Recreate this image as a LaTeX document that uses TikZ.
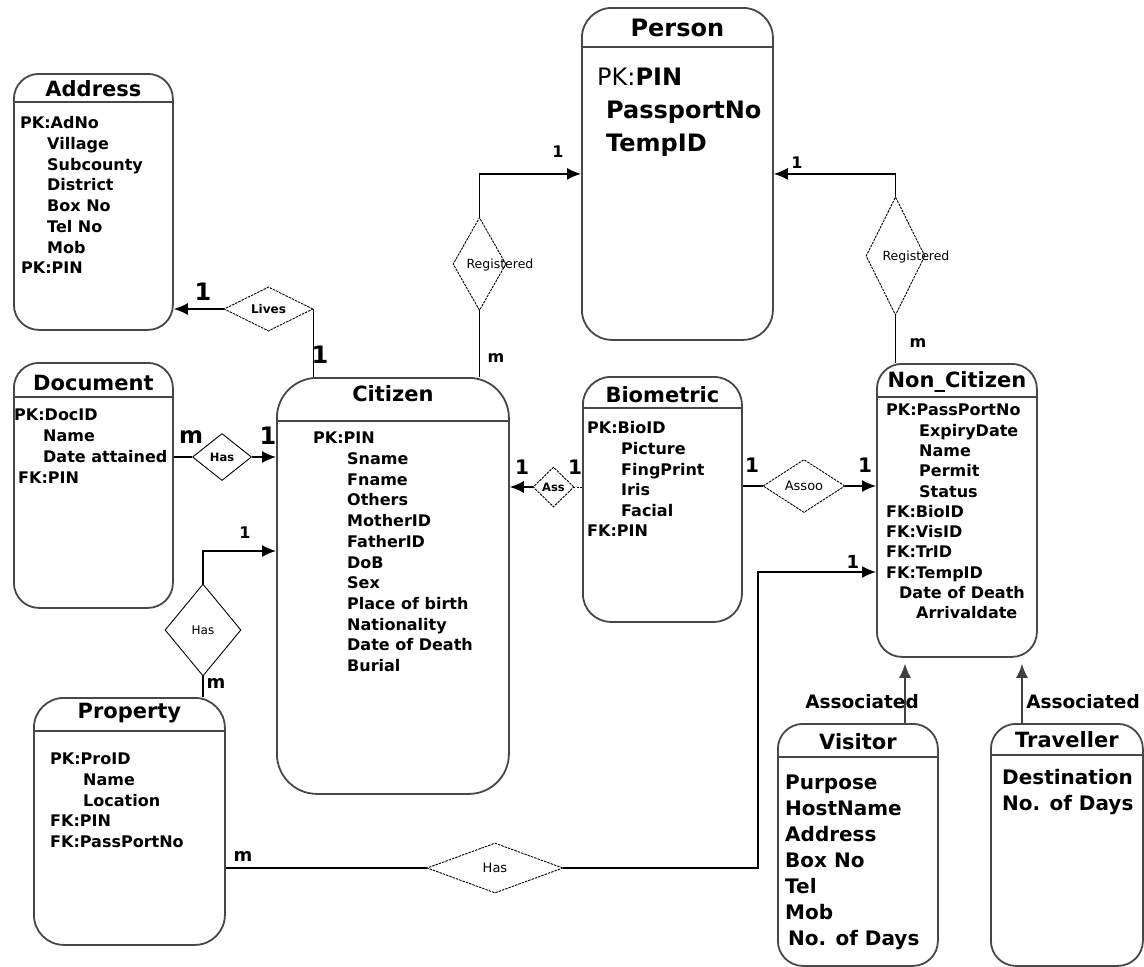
\documentclass[tikz,border=0pt]{standalone}
\usepackage{fontspec}
\setmainfont{DejaVu Sans}
\usetikzlibrary{shapes.geometric,arrows.meta,calc}
\tikzset{
  entity/.style={draw=black!72, line width=1.8pt, inner sep=0pt, anchor=north west},
  hdr/.style={draw=black!72, line width=1.8pt},
  ttl/.style={font=\fontsize{21}{24}\selectfont\bfseries, inner sep=0pt},
  attr/.style={font=\fontsize{#1}{#1}\selectfont\bfseries, inner sep=0pt, anchor=base west},
  rel/.style={diamond, draw, line width=0.9pt, inner sep=0pt, dash pattern=on 2.5pt off 1pt},
  relsolid/.style={diamond, draw, line width=0.9pt, inner sep=0pt},
  rellbl/.style={font=\fontsize{#1}{#1}\selectfont, inner sep=0pt},
  conn/.style={draw, line width=1.5pt},
  arr/.style={conn, -{Latex[length=14pt,width=12pt]}},
  card/.style={font=\fontsize{#1}{#1}\selectfont\bfseries, inner sep=0pt},
  assoc/.style={font=\fontsize{18.5}{18.5}\selectfont\bfseries, inner sep=0pt},
}
% prefix, size, x0, first centre y, step, list of dx/text
\newcommand\attrlist[6]{%
  \foreach \dx/\t [count=\i from 0] in {#6} {%
    \node[attr=#2] (#1-\i) at ({#3+\dx}, {#4+\i*#5+0.365*#2}) {\t};
  }}
\begin{document}
\begin{tikzpicture}[x=1pt,y=-1pt]
\useasboundingbox (0,0) rectangle (1144,967);
\fill[white] (0,0) rectangle (1144,967);

% ---------- entities ----------
% Address
\node[entity, rounded corners=25pt, minimum width=159pt, minimum height=256pt] (address) at (13,73) {};
\draw[hdr] (address.west |- 0,102) -- (address.east |- 0,102);
\node[ttl] (address-t) at (address.north |- 0,89) {Address};
\attrlist{adr}{16}{20}{123}{20.7}{0/PK:AdNo, 27/Village, 27/Subcounty, 27/District, 27/Box No, 27/Tel No, 27/Mob, 1/PK:PIN}

% Person
\node[entity, rounded corners=30pt, minimum width=191pt, minimum height=332pt] (person) at (581,7) {};
\draw[hdr] (person.west |- 0,47) -- (person.east |- 0,47);
\node[ttl, font=\fontsize{24}{26}\selectfont\bfseries] (person-t) at (person.north |- 0,28) {Person};
\node[attr=24] (per-0) at (597,{77+8.8}) {{\mdseries PK:}PIN};
\node[attr=24] (per-1) at (606,{110+8.8}) {PassportNo};
\node[attr=24] (per-2) at (606,{143+8.8}) {TempID};

% Citizen
\node[entity, rounded corners=40pt, minimum width=232pt, minimum height=416pt] (citizen) at (276,377) {};
\draw[hdr] (citizen.west |- 0,421) -- (citizen.east |- 0,421);
\node[ttl] (citizen-t) at (citizen.north |- 0,394) {Citizen};
\attrlist{cit}{16}{313}{438}{20.7}{0/PK:PIN, 34/Sname, 34/Fname, 34/Others, 34/MotherID, 34/FatherID, 34/DoB, 34/Sex, 34/Place of birth, 34/Nationality, 34/Date of Death, 34/Burial}

% Document
\node[entity, rounded corners=25pt, minimum width=159pt, minimum height=245pt] (document) at (13,362) {};
\draw[hdr] (document.west |- 0,397) -- (document.east |- 0,397);
\node[ttl] (document-t) at (document.north |- 0,383) {Document};
\attrlist{doc}{16}{14}{415}{20.8}{0/PK:DocID, 29/Name, 29/Date attained, 4/FK:PIN}

% Biometric
\node[entity, rounded corners=28pt, minimum width=159pt, minimum height=245pt] (biometric) at (582,376) {};
\draw[hdr] (biometric.west |- 0,408) -- (biometric.east |- 0,408);
\node[ttl] (biometric-t) at (biometric.north |- 0,395) {Biometric};
\attrlist{bio}{16}{587}{428}{20.6}{0/PK:BioID, 34/Picture, 34/FingPrint, 34/Iris, 34/Facial, 0/FK:PIN}

% Non_Citizen
\node[entity, rounded corners=25pt, minimum width=160pt, minimum height=293pt] (noncit) at (876,363) {};
\draw[hdr] (noncit.west |- 0,397) -- (noncit.east |- 0,397);
\node[ttl] (noncit-t) at (noncit.north |- 0,382) {Non\_Citizen};
\attrlist{nc}{16}{886}{410}{20.3}{0/PK:PassPortNo, 33/ExpiryDate, 33/Name, 33/Permit, 33/Status, 0/FK:BioID, 0/FK:VisID, 0/FK:TrID, 0/FK:TempID, 13/Date of Death, 30/Arrivaldate}

% Property
\node[entity, rounded corners=30pt, minimum width=191pt, minimum height=247pt] (property) at (33,697) {};
\draw[hdr] (property.west |- 0,731) -- (property.east |- 0,731);
\node[ttl] (property-t) at (property.north |- 0,713) {Property};
\attrlist{pro}{16}{50}{759}{20.7}{0/PK:ProID, 33/Name, 33/Location, 0/FK:PIN, 0/FK:PassPortNo}

% Visitor
\node[entity, rounded corners=25pt, minimum width=160pt, minimum height=242pt] (visitor) at (777,723) {};
\draw[hdr] (visitor.west |- 0,757) -- (visitor.east |- 0,757);
\node[ttl] (visitor-t) at (visitor.north |- 0,742) {Visitor};
\attrlist{vis}{20}{785}{782}{26}{0/Purpose, 0/HostName, 0/Address, 0/Box No, 0/Tel, 0/Mob, 3/No. of Days}

% Traveller
\node[entity, rounded corners=25pt, minimum width=152pt, minimum height=242pt] (traveller) at (990,723) {};
\draw[hdr] (traveller.west |- 0,755) -- (traveller.east |- 0,755);
\node[ttl] (traveller-t) at (traveller.north |- 0,740) {Traveller};
\attrlist{tra}{20}{1002}{777}{26}{0/Destination, 0/No. of Days}

% ---------- relationships ----------
\node[rel, minimum width=89pt, minimum height=37pt, font=\fontsize{12}{12}\selectfont\bfseries] (lives) at (268.5,309) {Lives};
\node[relsolid, minimum width=59pt, minimum height=47pt, font=\fontsize{11.5}{11.5}\selectfont\bfseries] (hasdoc) at (222,457) {Has};
\node[relsolid, minimum width=76pt, minimum height=92pt, font=\fontsize{12}{12}\selectfont] (hasprop) at (203,630) {Has};
\node[rel, minimum width=53pt, minimum height=93pt] (regL) at (479.5,264) {};
\node[rellbl=12.5] (regL-t) at (500,265) {Registered};
\node[rel, minimum width=59pt, minimum height=118pt] (regR) at (895.5,256) {};
\node[rellbl=12.5] (regR-t) at (916,257) {Registered};
\node[rel, minimum width=41pt, minimum height=40pt, font=\fontsize{11.5}{11.5}\selectfont\bfseries] (ass) at (553.5,487) {Ass};
\node[rel, minimum width=82pt, minimum height=53pt, font=\fontsize{13}{13}\selectfont] (assoo) at (804,486) {Assoo};
\node[rel, minimum width=136pt, minimum height=50pt, font=\fontsize{13}{13}\selectfont] (hasbot) at (495,868) {Has};

% ---------- connectors ----------
\draw[arr] (lives.west) -- (lives.west -| address.east);
\draw[conn] (lives.east) -- (lives.east |- citizen.north);
\draw[conn] (regL.south) -- (regL.south |- citizen.north);
\draw[arr] (regL.north) |- (person.west);
\draw[conn] (regR.south) -- (regR.south |- noncit.north);
\draw[arr] (regR.north) |- (person.east);
\draw[conn] (document.east |- hasdoc.west) -- (hasdoc.west);
\draw[arr] (hasdoc.east) -- (hasdoc.east -| citizen.west);
\draw[conn] (hasprop.south) -- (hasprop.south |- property.north);
\coordinate (citA) at (276,551);
\draw[arr] (hasprop.north) |- (citA);
\draw[conn, line width=1pt, dash pattern=on 2pt off 1.5pt] (biometric.west |- ass.east) -- (ass.east);
\draw[arr] (ass.west) -- (ass.west -| citizen.east);
\draw[conn] (biometric.east |- assoo.west) -- (assoo.west);
\draw[arr] (assoo.east) -- (assoo.east -| noncit.west);
\draw[conn] (property.east |- hasbot.west) -- (hasbot.west);
\coordinate (bend) at (758,572);
\draw[arr] (hasbot.east) -| (bend) -- (bend -| noncit.west);
\coordinate (vtop) at (905,723);
\draw[arr, draw=black!75, shorten >=6pt] (vtop) -- (vtop |- noncit.south);
\coordinate (ttop) at (1022,723);
\draw[arr, draw=black!75, shorten >=6pt] (ttop) -- (ttop |- noncit.south);
\node[assoc] (assocV) at (862,702) {Associated};
\node[assoc] (assocT) at (1083,702) {Associated};

% ---------- cardinalities ----------
\node[card=16] (k1) at (558,152) {1};
\node[card=16] (k2) at (797,163) {1};
\node[card=16] (k3) at (496,358) {m};
\node[card=16] (k4) at (918,343) {m};
\node[card=24] (k5) at (203,292) {1};
\node[card=24] (k6) at (320,355) {1};
\node[card=23] (k7) at (191,437) {m};
\node[card=24] (k8) at (268,436) {1};
\node[card=20] (k9) at (522,467) {1};
\node[card=20] (k10) at (575,467) {1};
\node[card=20] (k11) at (752,465) {1};
\node[card=20] (k12) at (865,465) {1};
\node[card=16] (k13) at (245,533) {1};
\node[card=18] (k14) at (216,683) {m};
\node[card=18] (k15) at (243,856) {m};
\node[card=18] (k16) at (853,562) {1};
\end{tikzpicture}
\end{document}
